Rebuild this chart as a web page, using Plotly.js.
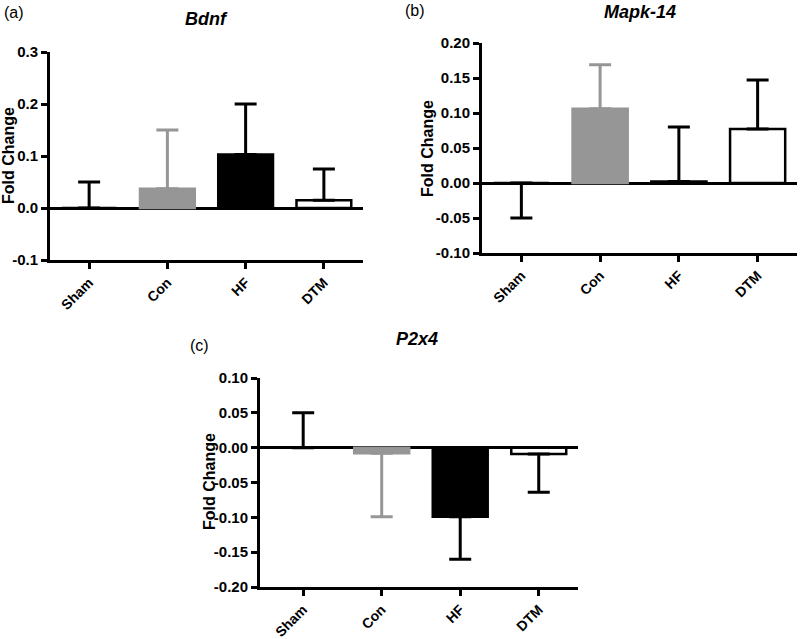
<!DOCTYPE html>
<html>
<head>
<meta charset="utf-8">
<script src="https://cdn.plot.ly/plotly-3.0.1.min.js"></script>
<style>html,body{margin:0;padding:0;background:#fff;}#chart{width:800px;height:639px;}</style>
</head>
<body>
<div id="chart"></div>
<script>
// ---- data ----
const categories = ['Sham', 'Con', 'HF', 'DTM'];

// mean fold change per group
const bdnfMean = [0, 0.037, 0.103, 0.015];
const mapkMean = [0, 0.106, 0.002, 0.077];
const p2x4Mean = [0, -0.008, -0.099, -0.009];

// error bar length (signed: + drawn upward, - drawn downward)
const bdnfErr = [0.05, 0.113, 0.097, 0.060];
const mapkErr = [-0.05, 0.063, 0.078, 0.070];
const p2x4Err = [0.05, -0.091, -0.061, -0.055];

// tick values & labels
const bdnfTickVals = [-0.1, 0, 0.1, 0.2, 0.3];
const bdnfTickText = ['-0.1', '0.0', '0.1', '0.2', '0.3'];
const mapkTickVals = [-0.1, -0.05, 0, 0.05, 0.1, 0.15, 0.2];
const mapkTickText = ['-0.10', '-0.05', '0.00', '0.05', '0.10', '0.15', '0.20'];
const p2x4TickVals = [-0.2, -0.15, -0.1, -0.05, 0, 0.05, 0.1];
const p2x4TickText = ['-0.20', '-0.15', '-0.10', '-0.05', '0.00', '0.05', '0.10'];

const panelTitles = ['Bdnf', 'Mapk-14', 'P2x4'];
const panelLetters = ['(a)', '(b)', '(c)'];
const yTitle = 'Fold Change';

// ---- styles ----
const W = 800, H = 639;
const FONT = 'Liberation Sans, Arial, Helvetica, sans-serif';
const barFill = ['#ffffff', '#969696', '#000000', '#ffffff'];
const barLine = ['#000000', '#969696', '#000000', '#000000'];
const errColor = ['#000000', '#969696', '#000000', '#000000'];
const bold = s => '<b>' + s + '</b>';

// panel boxes in pixels [left, right, top, bottom]
const boxes = [
  [50, 363, 52, 260],
  [482, 797, 43, 253],
  [260, 578, 378, 587]
];
const yRanges = [[-0.1, 0.3], [-0.1, 0.2], [-0.2, 0.1]];
const xRanges = [[-0.5, 3.5], [-0.5, 3.5], [-0.55, 3.5]];
const means = [bdnfMean, mapkMean, p2x4Mean];
const errs = [bdnfErr, mapkErr, p2x4Err];
const tickVals = [bdnfTickVals, mapkTickVals, p2x4TickVals];
const tickTexts = [bdnfTickText, mapkTickText, p2x4TickText];

const px2x = p => p / W;
const px2y = p => 1 - p / H;

const traces = [];
const layout = {
  width: W, height: H,
  margin: {l: 0, r: 0, t: 0, b: 0},
  paper_bgcolor: '#fff', plot_bgcolor: 'rgba(0,0,0,0)',
  barmode: 'overlay',
  showlegend: false,
  font: {family: FONT, color: '#000'},
  annotations: []
};

for (let p = 0; p < 3; p++) {
  const n = p === 0 ? '' : String(p + 1);
  const [l, r, t, b] = boxes[p];
  for (let i = 0; i < categories.length; i++) {
    const e = errs[p][i];
    traces.push({
      type: 'bar',
      x: [categories[i]],
      y: [means[p][i]],
      xaxis: 'x' + n, yaxis: 'y' + n,
      width: 0.7,
      marker: {color: barFill[i], line: {color: barLine[i], width: 2.5}},
      error_y: {
        type: 'data', symmetric: false,
        array: [Math.max(e, 0)], arrayminus: [Math.max(-e, 0)],
        color: errColor[i], thickness: 3, width: 11
      },
      hoverinfo: 'skip'
    });
  }
  layout['xaxis' + n] = {
    domain: [px2x(l), px2x(r)], anchor: 'y' + n,
    type: 'category', categoryorder: 'array', categoryarray: categories,
    range: xRanges[p],
    tickmode: 'array', tickvals: categories, ticktext: categories.map(bold),
    showline: true, linewidth: 3, linecolor: '#000',
    ticks: 'outside', ticklen: 6, tickwidth: 3, tickcolor: '#000',
    tickangle: -45,
    tickfont: {family: FONT, size: 14, color: '#000'},
    showgrid: false, zeroline: false, fixedrange: true
  };
  layout['yaxis' + n] = {
    domain: [px2y(b), px2y(t)], anchor: 'x' + n,
    range: yRanges[p],
    tickmode: 'array', tickvals: tickVals[p], ticktext: tickTexts[p].map(bold),
    showline: true, linewidth: 3, linecolor: '#000',
    ticks: 'outside', ticklen: 6, tickwidth: 3, tickcolor: '#000',
    tickfont: {family: FONT, size: 15, color: '#000'},
    showgrid: false,
    zeroline: true, zerolinewidth: 3, zerolinecolor: '#000',
    fixedrange: true
  };
}

// titles / letters / y titles (positions in pixels)
const titlePos = [[207, 19], [640, 12], [417, 339]];
const letterPos = [[2, 12], [403, 10], [188, 345]];
const yTitlePos = [[9, 156], [427, 148], [209, 482]];
for (let p = 0; p < 3; p++) {
  layout.annotations.push({
    xref: 'paper', yref: 'paper',
    x: px2x(titlePos[p][0]), y: px2y(titlePos[p][1]),
    xanchor: 'center', yanchor: 'middle', showarrow: false,
    text: '<b><i>' + panelTitles[p] + '</i></b>',
    font: {family: FONT, size: 18, color: '#000'}
  });
  layout.annotations.push({
    xref: 'paper', yref: 'paper',
    x: px2x(letterPos[p][0]), y: px2y(letterPos[p][1]),
    xanchor: 'left', yanchor: 'middle', showarrow: false,
    text: panelLetters[p],
    font: {family: FONT, size: 16, color: '#000'}
  });
  layout.annotations.push({
    xref: 'paper', yref: 'paper',
    x: px2x(yTitlePos[p][0]), y: px2y(yTitlePos[p][1]),
    xanchor: 'center', yanchor: 'middle', showarrow: false,
    textangle: -90,
    text: bold(yTitle),
    font: {family: FONT, size: 16, color: '#000'}
  });
}

Plotly.newPlot('chart', traces, layout, {staticPlot: true});
</script>
</body>
</html>
